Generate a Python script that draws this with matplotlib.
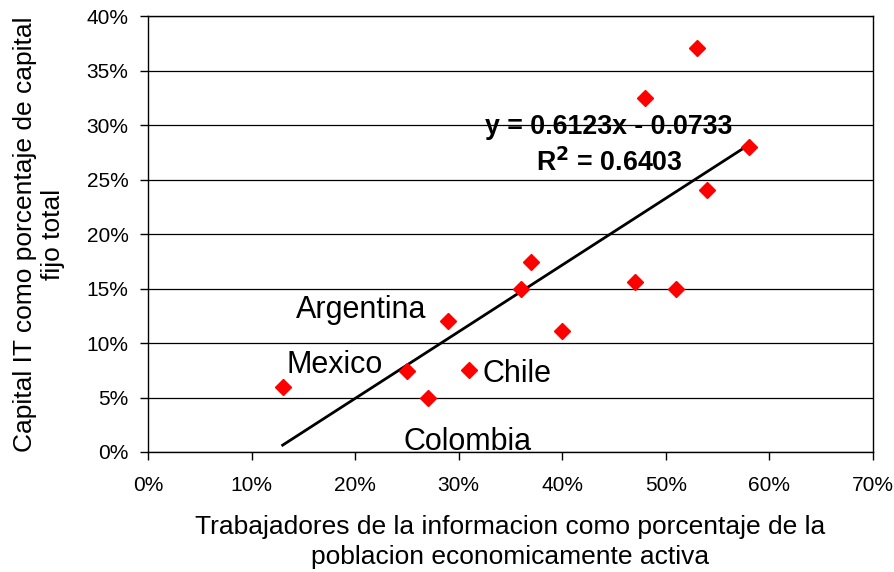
import numpy as np
import matplotlib
matplotlib.use("Agg")
import matplotlib.pyplot as plt
from matplotlib.ticker import PercentFormatter

plt.rcParams['font.family'] = ['Liberation Sans', 'DejaVu Sans']
plt.rcParams['mathtext.default'] = 'regular'

# data (fractions)
trab = [0.13, 0.25, 0.27, 0.29, 0.31, 0.36, 0.37, 0.40, 0.47, 0.48, 0.51, 0.53, 0.54, 0.58]
capital = [0.06, 0.074, 0.05, 0.12, 0.075, 0.15, 0.174, 0.111, 0.156, 0.325, 0.15, 0.371, 0.24, 0.28]

slope = 0.6123
intercept = -0.0733
r2 = 0.6403

labels = ['Argentina', 'Mexico', 'Chile', 'Colombia']
label_pos = [(0.143, 0.123), (0.134, 0.0725), (0.323, 0.064), (0.247, 0.002)]

fig = plt.figure(figsize=(8.95, 5.72), dpi=100)
ax = fig.add_axes([0.1654, 0.2098, 0.81, 0.762])

ax.set_xlim(0, 0.7)
ax.set_ylim(0, 0.4)
ax.set_xticks(np.arange(0, 0.71, 0.1))
ax.set_yticks(np.arange(0, 0.401, 0.05))
ax.xaxis.set_major_formatter(PercentFormatter(1.0, decimals=0))
ax.yaxis.set_major_formatter(PercentFormatter(1.0, decimals=0))
ax.yaxis.grid(True, color='black', linewidth=0.9)
ax.set_axisbelow(True)
for s in ax.spines.values():
    s.set_linewidth(1.0)
ax.tick_params(labelsize=15, length=5.5, width=1.0, direction='out')
ax.tick_params(axis='x', pad=12)
ax.tick_params(axis='y', pad=8.5)

# trend line
xt = np.array([min(trab), max(trab)])
ax.plot(xt, slope * xt + intercept, color='black', linewidth=2, zorder=3)

ax.plot(trab, capital, linestyle='none', marker='D', markersize=8,
        color='#ff0000', zorder=4)

for lab, (lx, ly) in zip(labels, label_pos):
    ax.text(lx, ly, lab, fontsize=22, ha='left', va='baseline')

ax.text(0.445, 0.298, 'y = %.4fx - %.4f' % (slope, -intercept), fontsize=19.3,
        fontweight='bold', ha='center', va='center')
ax.text(0.445, 0.265, r'R$^{\mathbf{2}}$ = %.4f' % r2, fontsize=19.3,
        fontweight='bold', ha='center', va='center')

fig.text(0.570, 0.052, 'Trabajadores de la informacion como porcentaje de la\npoblacion economicamente activa',
         fontsize=19, ha='center', va='center', linespacing=1.3)
fig.text(0.044, 1 - 234 / 572, 'Capital IT como porcentaje de capital\nfijo total', fontsize=19,
         rotation=90, ha='center', va='center', linespacing=1.2)

fig.savefig('out.png', dpi=100)
